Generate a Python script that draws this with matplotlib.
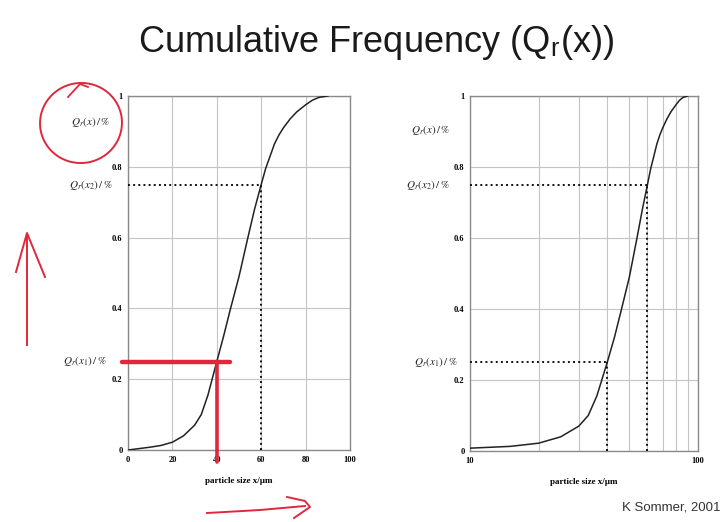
import matplotlib
matplotlib.use("Agg")
import matplotlib.pyplot as plt
from matplotlib.patches import Ellipse
from matplotlib.lines import Line2D

# ── data ─────────────────────────────────────────────────────────────
size_um = [0, 5, 10, 15, 20, 25, 30, 33, 36, 40, 43, 46, 50, 54, 57, 60,
           62, 64, 66, 68, 70, 73, 76, 80, 83, 86, 90]
q_r     = [0, 0.004, 0.008, 0.013, 0.022, 0.04, 0.07, 0.1, 0.155, 0.25, 0.32,
           0.395, 0.49, 0.6, 0.68, 0.75, 0.795, 0.83, 0.865, 0.89, 0.91,
           0.935, 0.955, 0.975, 0.988, 0.996, 1.0]

x1, x2 = 40, 60            # marked particle sizes
q_x1, q_x2 = 0.25, 0.75    # Q_r(x1), Q_r(x2)

lin_ticks = [0, 20, 40, 60, 80, 100]
log_ticks = [10, 100]
log_minor = [20, 30, 40, 50, 60, 70, 80, 90]
y_ticks = [0, 0.2, 0.4, 0.6, 0.8, 1]
y_labels = ["0", "0.2", "0.4", "0.6", "0.8", "1"]

W, H = 723, 522
fig = plt.figure(figsize=(W / 100, H / 100), dpi=100)
fig.patch.set_facecolor("white")
plt.rcParams["mathtext.fontset"] = "stix"

tick_font = dict(family="Liberation Serif", size=6, weight="bold")
label_font = dict(family="Liberation Serif", size=6.5, weight="bold")


def px_box(l, t, r, b):
    return [l / W, 1 - b / H, (r - l) / W, (b - t) / H]


def style(ax):
    ax.set_ylim(0, 1)
    ax.set_yticks(y_ticks)
    ax.set_yticklabels(y_labels, fontdict=tick_font)
    ax.tick_params(length=0, pad=4)
    for s in ax.spines.values():
        s.set_color("#8a8a8a")
        s.set_linewidth(1.0)
    ax.grid(True, which="both", color="#c4c4c4", linewidth=0.8)
    ax.set_axisbelow(True)
    ax.set_xlabel("particle size x/µm", fontdict=label_font, labelpad=10)


def q_label(ax, text, y, dx):
    ax.annotate(text, xy=(0, y), xycoords=("axes fraction", "data"),
                xytext=(-dx, 0), textcoords="offset pixels",
                ha="right", va="center", fontsize=8, color="#222222")


# ── left: linear particle size ──────────────────────────────────────
ax1 = fig.add_axes(px_box(128, 96, 350, 450))
style(ax1)
ax1.set_xlim(0, 100)
ax1.set_xticks(lin_ticks)
ax1.set_xticklabels([str(t) for t in lin_ticks], fontdict=tick_font)
ax1.plot(size_um, q_r, color="#222222", linewidth=1.1, zorder=3)
ax1.plot([0, x2], [q_x2, q_x2], color="#111111", linestyle=":", linewidth=1.4, zorder=3)
ax1.plot([x2, x2], [0, q_x2], color="#111111", linestyle=":", linewidth=1.4, zorder=3)
ax1.plot([0, x1], [q_x1, q_x1], color="#111111", linestyle=":", linewidth=1.2, zorder=3)
q_label(ax1, r"$Q_r(x)\,/\,\%$", 0.927, 18)
q_label(ax1, r"$Q_r(x_2)\,/\,\%$", q_x2, 15)
q_label(ax1, r"$Q_r(x_1)\,/\,\%$", q_x1, 21)

# hand-drawn red marks on the left chart
red = "#e0283c"
ax1.plot([-2.7, 46], [q_x1, q_x1], color=red, linewidth=3.2, solid_capstyle="round",
         clip_on=False, zorder=5)
ax1.plot([x1, x1], [q_x1, -0.035], color=red, linewidth=2.6, solid_capstyle="round",
         clip_on=False, zorder=5)

# ── right: logarithmic particle size ────────────────────────────────
log_x = [x for x in size_um if x >= 10]
log_q = [q for x, q in zip(size_um, q_r) if x >= 10]

ax2 = fig.add_axes(px_box(470, 96, 698, 451))
style(ax2)
ax2.set_xscale("log")
ax2.set_xlim(10, 100)
ax2.set_xticks(log_ticks)
ax2.set_xticklabels([str(t) for t in log_ticks], fontdict=tick_font)
ax2.set_xticks(log_minor, minor=True)
ax2.set_xticklabels([], minor=True)
ax2.tick_params(which="minor", length=0)
ax2.plot(log_x, log_q, color="#222222", linewidth=1.1, zorder=3)
ax2.plot([10, x2], [q_x2, q_x2], color="#111111", linestyle=":", linewidth=1.4, zorder=3)
ax2.plot([x2, x2], [0, q_x2], color="#111111", linestyle=":", linewidth=1.4, zorder=3)
ax2.plot([10, x1], [q_x1, q_x1], color="#111111", linestyle=":", linewidth=1.4, zorder=3)
ax2.plot([x1, x1], [0, q_x1], color="#111111", linestyle=":", linewidth=1.4, zorder=3)
q_label(ax2, r"$Q_r(x)\,/\,\%$", 0.904, 20)
q_label(ax2, r"$Q_r(x_2)\,/\,\%$", q_x2, 20)
q_label(ax2, r"$Q_r(x_1)\,/\,\%$", q_x1, 12)

# ── slide texts ─────────────────────────────────────────────────────
fig.text(376 / W, 1 - 42 / H, r"Cumulative Frequency (Q$_\mathregular{r}$(x))",
         ha="center", va="center", fontsize=26, color="#1a1a1a",
         family="Liberation Sans")
fig.text(721 / W, 1 - 508 / H, "K Sommer, 2001", ha="right", va="center",
         fontsize=9.5, color="#333333", family="Liberation Sans")

# ── red pen annotations in pixel space ──────────────────────────────
over = fig.add_axes([0, 0, 1, 1], zorder=10)
over.set_xlim(0, W)
over.set_ylim(H, 0)
over.axis("off")
over.patch.set_alpha(0)
over.add_patch(Ellipse((81, 123), 82, 80, angle=-10, fill=False,
                       edgecolor=red, linewidth=1.4))
over.add_line(Line2D([68, 80, 88], [97, 84, 87], color=red, linewidth=1.3))
# up arrow
over.add_line(Line2D([27, 27], [345, 235], color=red, linewidth=1.4))
over.add_line(Line2D([16, 27, 45], [272, 233, 277], color=red, linewidth=1.4))
# right arrow at bottom
over.add_line(Line2D([207, 260, 305], [513, 510, 506], color=red, linewidth=1.4))
over.add_line(Line2D([287, 305, 310, 294], [497, 501, 507, 518], color=red, linewidth=1.4))

fig.savefig("out.png", dpi=100)
